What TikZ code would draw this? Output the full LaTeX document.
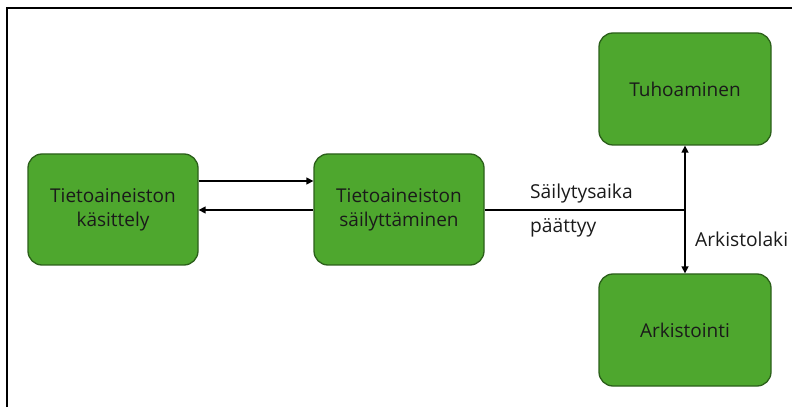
\documentclass[tikz,border=0pt]{standalone}
\usepackage{fontspec}
\setmainfont{Open Sans}
\usetikzlibrary{arrows.meta}
\definecolor{boxfill}{HTML}{4EA72E}
\definecolor{boxline}{HTML}{2B5F1A}
\definecolor{boxtext}{HTML}{1A1A1A}
\begin{document}
\begin{tikzpicture}[x=1pt,y=1pt,
  box/.style={draw=boxline,line width=1.3pt,fill=boxfill,rounded corners=14pt,
    minimum width=170pt,minimum height=111pt,align=center,text=boxtext,
    font=\fontsize{19pt}{24pt}\selectfont},
  conn/.style={line width=1.4pt,draw=black},
  tip/.style={-{Triangle[length=7pt,width=7pt]}},
  lbl/.style={font=\fontsize{19.2pt}{22pt}\selectfont,text=boxtext,inner sep=0pt}]
\useasboundingbox (0,0) rectangle (792,407);
\draw[line width=1.3pt] (7,0) -- (7,399) -- (792,399);
\node[box] (a) at (113,197.5) {Tietoaineiston\\käsittely};
\node[box] (b) at (399,197.5) {Tietoaineiston\\säilyttäminen};
\node[box,minimum width=172pt,minimum height=112pt] (c) at (685,318) {Tuhoaminen};
\node[box,minimum width=172pt,minimum height=112pt] (d) at (685,77) {Arkistointi};
\coordinate (j) at (685,197);
\draw[conn,tip] (a.east |- 0,226) -- (b.west |- 0,226);
\draw[conn,tip] (b.west |- 0,197) -- (a.east |- 0,197);
\draw[conn] (b.east |- j) -- (j);
\draw[conn,{Triangle[length=7pt,width=7pt]}-{Triangle[length=7pt,width=7pt]}] (c.south) -- (d.north);
\node[lbl,anchor=base west] (l1) at (530,208) {Säilytysaika};
\node[lbl,anchor=base west] (l2) at (530,174) {päättyy};
\node[lbl,anchor=base west] (l3) at (695,160) {Arkistolaki};
\end{tikzpicture}
\end{document}
